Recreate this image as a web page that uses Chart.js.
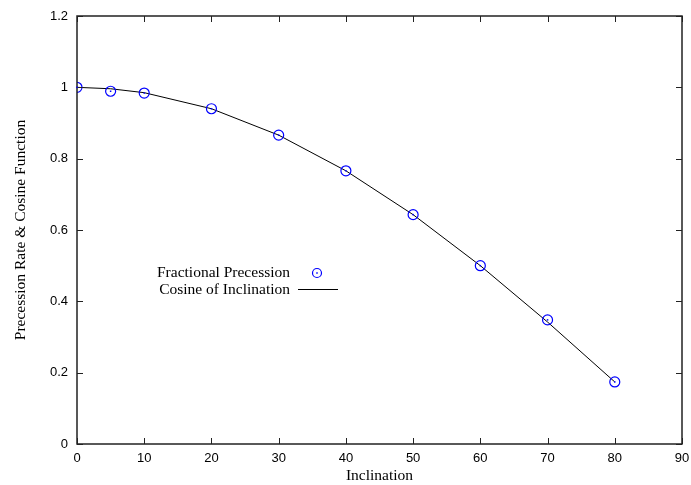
<!DOCTYPE html>
<html>
<head>
<meta charset="utf-8">
<script src="https://cdn.jsdelivr.net/npm/chart.js@4.4.1/dist/chart.umd.min.js"></script>
<style>
body { margin: 0; background: #fff; }
#wrap { width: 691px; height: 485px; }
</style>
</head>
<body>
<div id="wrap"><canvas id="precChart" width="691" height="485"></canvas></div>
<script>
// inclination (degrees) for the measured points
const inclination = [0, 5, 10, 20, 30, 40, 50, 60, 70, 80];
const fractionalPrecession = [1.0, 0.989, 0.984, 0.940, 0.866, 0.766, 0.643, 0.500, 0.348, 0.174];
const cosineValues = [1.0, 0.996, 0.985, 0.940, 0.866, 0.766, 0.643, 0.500, 0.342, 0.174];

const xTicks = [0, 10, 20, 30, 40, 50, 60, 70, 80, 90];
const yTicks = [0, 0.2, 0.4, 0.6, 0.8, 1, 1.2];

const serif = '"Liberation Serif", "DejaVu Serif", serif';
const sans = '"Liberation Sans", Arial, sans-serif';

const pts = inclination.map((x, i) => ({ x: x, y: fractionalPrecession[i] }));
const cosPts = inclination.map((x, i) => ({ x: x, y: cosineValues[i] }));

// gnuplot-like frame with inward ticks on all four sides, dots in circles, legend
const gnuFrame = {
    id: 'gnuFrame',
    afterDatasetsDraw(chart) {
        const ctx = chart.ctx;
        const a = chart.chartArea;
        const xs = chart.scales.x, ys = chart.scales.y;
        const t = 6;
        ctx.save();
        ctx.strokeStyle = '#222';
        ctx.lineWidth = 1.5;
        ctx.strokeRect(a.left, a.top, a.right - a.left, a.bottom - a.top);
        ctx.lineWidth = 1;
        ctx.beginPath();
        xTicks.forEach(v => {
            const px = Math.round(xs.getPixelForValue(v)) + 0.5;
            ctx.moveTo(px, a.bottom); ctx.lineTo(px, a.bottom - t);
            ctx.moveTo(px, a.top); ctx.lineTo(px, a.top + t);
        });
        yTicks.forEach(v => {
            const py = Math.round(ys.getPixelForValue(v)) + 0.5;
            ctx.moveTo(a.left, py); ctx.lineTo(a.left + t, py);
            ctx.moveTo(a.right, py); ctx.lineTo(a.right - t, py);
        });
        ctx.stroke();

        // centre dots of the point symbols
        ctx.fillStyle = '#0000ff';
        chart.getDatasetMeta(0).data.forEach(el => {
            ctx.fillRect(el.x - 0.75, el.y - 0.75, 1.5, 1.5);
        });

        // legend
        const ds = chart.data.datasets;
        ctx.font = '15.5px ' + serif;
        ctx.fillStyle = '#000';
        ctx.textAlign = 'right';
        ctx.textBaseline = 'middle';
        const tx = 290, y1 = 273, y2 = 290;
        ctx.fillText(ds[0].label, tx, y1);
        ctx.fillText(ds[1].label, tx, y2);
        ctx.strokeStyle = '#0000ff';
        ctx.lineWidth = 1.2;
        ctx.beginPath();
        ctx.arc(317, y1, 4.5, 0, Math.PI * 2);
        ctx.stroke();
        ctx.fillStyle = '#0000ff';
        ctx.fillRect(316.25, y1 - 0.75, 1.5, 1.5);
        ctx.strokeStyle = '#000';
        ctx.lineWidth = 1;
        ctx.beginPath();
        ctx.moveTo(298, y2 - 0.5); ctx.lineTo(338, y2 - 0.5);
        ctx.stroke();
        ctx.restore();
    }
};

new Chart('precChart', {
    type: 'scatter',
    data: {
        datasets: [{
            label: 'Fractional Precession',
            data: pts,
            showLine: false,
            pointStyle: 'circle',
            pointRadius: 5,
            pointHoverRadius: 5,
            borderColor: '#0000ff',
            backgroundColor: 'rgba(0,0,0,0)',
            borderWidth: 1.2
        }, {
            label: 'Cosine of Inclination',
            data: cosPts,
            showLine: true,
            pointRadius: 0,
            borderColor: '#000',
            borderWidth: 1,
            tension: 0
        }]
    },
    options: {
        responsive: false,
        animation: false,
        layout: { padding: { top: 16, right: 9, left: 0, bottom: 0 } },
        plugins: {
            legend: { display: false },
            tooltip: { enabled: false }
        },
        scales: {
            x: {
                type: 'linear',
                min: 0, max: 90,
                afterBuildTicks: s => { s.ticks = xTicks.map(v => ({ value: v })); },
                afterFit: s => { s.height = 41; s.paddingRight = 0; s.paddingLeft = 0; },
                grid: { display: false, drawTicks: false, tickLength: 0 },
                border: { display: false },
                ticks: { font: { family: sans, size: 13 }, color: '#000', padding: 7, callback: v => String(v) },
                title: { display: true, text: 'Inclination', font: { family: serif, size: 15.5 }, color: '#000', padding: { top: 0, bottom: 0 } }
            },
            y: {
                type: 'linear',
                min: 0, max: 1.2,
                afterBuildTicks: s => { s.ticks = yTicks.map(v => ({ value: v })); },
                afterFit: s => { s.width = 77; s.paddingTop = 0; s.paddingBottom = 0; },
                grid: { display: false, drawTicks: false, tickLength: 0 },
                border: { display: false },
                ticks: { font: { family: sans, size: 13 }, color: '#000', padding: 9, callback: v => String(v) },
                title: { display: true, text: 'Precession Rate & Cosine Function', font: { family: serif, size: 15.5 }, color: '#000', padding: { top: 12, bottom: 0 } }
            }
        }
    },
    plugins: [gnuFrame]
});
</script>
</body>
</html>
